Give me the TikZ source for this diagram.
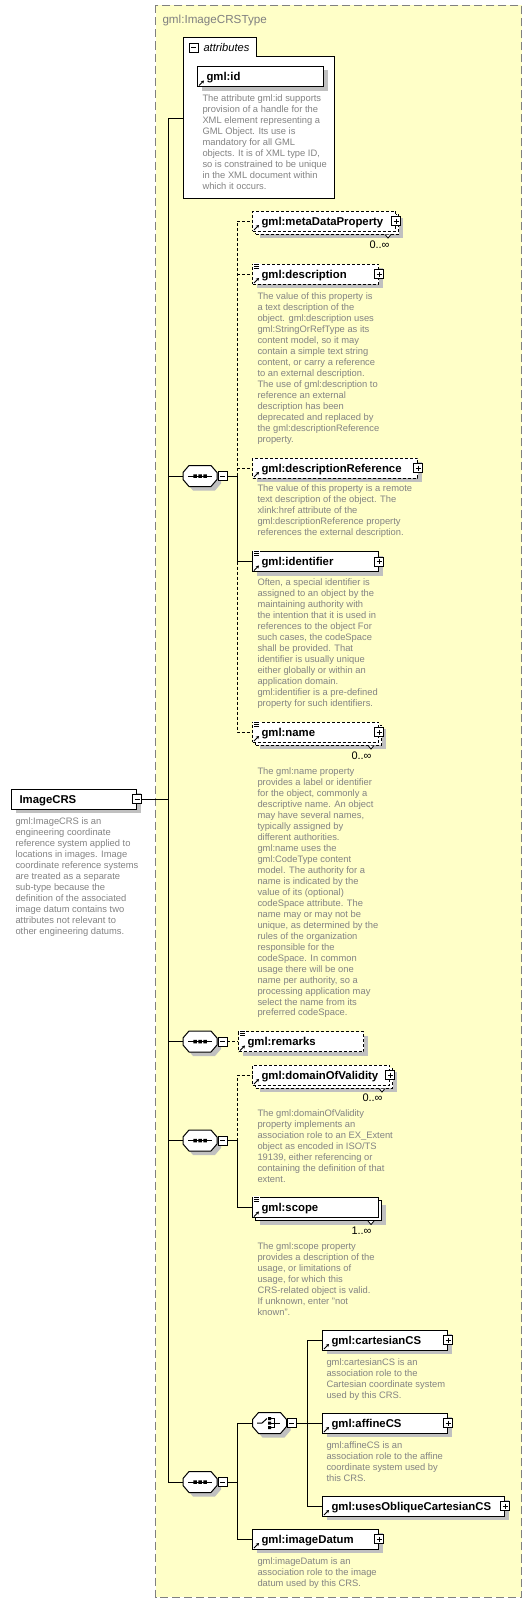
\documentclass[tikz,border=0pt]{standalone}
\usepackage{fontspec}
\setmainfont{Liberation Sans}
\usetikzlibrary{shadows,arrows.meta}
\definecolor{bgyellow}{HTML}{FFFFC8}
\definecolor{desccol}{HTML}{838383}
\definecolor{shadowgray}{HTML}{C0C0C0}
\definecolor{framegray}{HTML}{808080}
\tikzset{
  box/.style={draw, fill=white, line width=1bp, minimum height=20bp, inner sep=0pt, anchor=west},
  shad/.style={general shadow={fill=shadowgray, shadow xshift=4bp, shadow yshift=-4bp}},
  multishad/.style={general shadow={fill=shadowgray, shadow xshift=7bp, shadow yshift=-7bp},
                    general shadow={fill=white, draw=black, line width=1bp, shadow xshift=3bp, shadow yshift=-3bp, #1}},
  multishad/.default=solid,
  opt/.style={dash pattern=on 3bp off 2bp},
  lbl/.style={anchor=base west, inner sep=0pt, font=\fontsize{11.4}{13}\selectfont\bfseries},
  doc/.style={anchor=north west, inner sep=0pt, align=left, text=desccol, font=\fontsize{9.4}{11}\selectfont},
  mult/.style={anchor=east, inner sep=0pt, font=\fontsize{11}{12}\selectfont},
  mbox/.style={draw, fill=white, line width=0.8bp, minimum size=9bp, inner sep=0pt,
     path picture={\draw[line width=0.8bp] ([xshift=2bp]path picture bounding box.west) -- ([xshift=-2bp]path picture bounding box.east);}},
  pbox/.style={draw, fill=white, line width=0.8bp, minimum size=9bp, inner sep=0pt,
     path picture={\draw[line width=0.8bp] ([xshift=2bp]path picture bounding box.west) -- ([xshift=-2bp]path picture bounding box.east)
        ([yshift=-2bp]path picture bounding box.north) -- ([yshift=2bp]path picture bounding box.south);}},
  comp/.style={minimum width=34bp, minimum height=21bp, inner sep=0pt},
  refarrow/.pic={\draw[line width=1bp, -{Stealth[length=3bp,width=3.5bp]}] (2,-1.5) -- (7,-6.5);},
  docicon/.pic={\fill[white] (1,-1) rectangle (8,6); \draw[line width=0.7bp] (2,0.5) -- (7,0.5) (2,2.5) -- (7,2.5) (2,4.5) -- (7,4.5);},
  notch/.pic={\draw[fill=white, line width=0.8bp] (-3,0) -- (0,3.5) -- (3,0);},
  octo/.pic={
    \fill[shadowgray, shift={(4,4)}] (-17,-3.5) -- (-11,-10.5) -- (11,-10.5) -- (17,-3.5) -- (17,3.5) -- (11,10.5) -- (-11,10.5) -- (-17,3.5) -- cycle;
    \draw[fill=white, line width=1bp] (-17,-3.5) -- (-11,-10.5) -- (11,-10.5) -- (17,-3.5) -- (17,3.5) -- (11,10.5) -- (-11,10.5) -- (-17,3.5) -- cycle;},
  seqsym/.pic={\draw[line width=1bp] (-12,0) -- (12,0);
    \fill (-6.75,-1.75) rectangle (-3.25,1.75) (-1.75,-1.75) rectangle (1.75,1.75) (3.25,-1.75) rectangle (6.75,1.75);},
  choicesym/.pic={\draw[line width=1bp] (-12.5,0) -- (-7.5,0) -- (-2.5,-4.5);
    \fill (-1.5,-6) rectangle (1.5,-3) (-1.5,-1.5) rectangle (1.5,1.5) (-1.5,3) rectangle (1.5,6);
    \draw[line width=1bp] (1.5,-4.5) -- (4.5,-4.5) -- (4.5,4.5) -- (1.5,4.5) (1.5,0) -- (10,0);}
}
\begin{document}
\begin{tikzpicture}[x=1bp,y=-1bp,line width=1bp]
\useasboundingbox (0,0) rectangle (532,1606);
\fill[white] (0,0) rectangle (532,1606);
% complex type frame
\draw[framegray, fill=bgyellow, dash pattern=on 8bp off 4bp] (155.5,5.5) rectangle (521.5,1597);
\node[anchor=west, inner sep=0pt, text=framegray, font=\fontsize{11.7}{13}\selectfont] (title) at (162,20) {gml:ImageCRSType};

% attributes box
\draw[fill=white] (183,198) -- (183,38) -- (256,38) -- (256,57) -- (334,57) -- (334,198) -- cycle;
\node[mbox] (attrm) at (193.5,47.5) {};
\node[anchor=base west, inner sep=0pt, font=\fontsize{11.2}{12}\selectfont\itshape] (attrl) at (203,52) {attributes};
\coordinate (attrin) at (183,118);
\node[box, shad, minimum width=126bp] (gmlid) at (197,76.5) {};
\node[lbl] (gmlidl) at ([xshift=9bp,yshift=-4bp]gmlid.west) {gml:id};
\pic at (gmlid.south west) {refarrow};
\node[doc] (gmlidt) at (202,94.6) {The attribute gml:id supports\\provision of a handle for the\\XML element representing a\\GML Object. Its use is\\mandatory for all GML\\objects. It is of XML type ID,\\so is constrained to be unique\\in the XML document within\\which it occurs.};

% root element
\node[box, shad, minimum width=125bp] (crs) at (11,799) {};
\node[lbl] (crsl) at ([xshift=8bp,yshift=-4bp]crs.west) {ImageCRS};
\node[mbox] (crsm) at (crs.east) {};
\node[doc] (crst) at (15,817.6) {gml:ImageCRS is an\\engineering coordinate\\reference system applied to\\locations in images. Image\\coordinate reference systems\\are treated as a separate\\sub-type because the\\definition of the associated\\image datum contains two\\attributes not relevant to\\other engineering datums.};
\coordinate (j0) at (168,799);

% compositors
\node[comp] (s1) at (200,476) {}; \pic at (s1.center) {octo}; \pic at (s1.center) {seqsym};
\node[mbox] (s1m) at (222.5,476) {};
\node[comp] (s2) at (200,1041.5) {}; \pic at (s2.center) {octo}; \pic at (s2.center) {seqsym};
\node[mbox] (s2m) at (222.5,1041.5) {};
\node[comp] (s3) at (200,1140.5) {}; \pic at (s3.center) {octo}; \pic at (s3.center) {seqsym};
\node[mbox] (s3m) at (222.5,1140.5) {};
\node[comp] (s4) at (200,1482) {}; \pic at (s4.center) {octo}; \pic at (s4.center) {seqsym};
\node[mbox] (s4m) at (222.5,1482) {};
\node[comp, minimum width=35bp] (ch) at (269.5,1423) {}; \pic at (ch.center) {octo}; \pic at (ch.center) {choicesym};
\node[mbox] (chm) at (291.5,1423) {};
\coordinate (j1) at (237,476);
\coordinate (j3) at (237,1140.5);
\coordinate (j4) at (237,1482);
\coordinate (j5) at (307,1423);

% sequence 1
\node[box, opt, multishad=opt, minimum width=143bp] (meta) at (252,221) {};
\pic at ([xshift=-8bp,yshift=-3bp]meta.south east) {notch};
\node[lbl] (metal) at ([xshift=9bp,yshift=-4bp]meta.west) {gml:metaDataProperty};
\pic at (meta.south west) {refarrow};
\node[pbox] (metap) at (meta.east) {};
\node[mult] (metam) at (390,245) {0..∞};

\node[box, opt, shad, minimum width=126bp] (desc) at (252,274) {};
\node[lbl] (descl) at ([xshift=9bp,yshift=-4bp]desc.west) {gml:description};
\pic at (desc.north west) {docicon};
\pic at (desc.south west) {refarrow};
\node[pbox] (descp) at (desc.east) {};
\node[doc] (desct) at (257,292.6) {The value of this property is\\a text description of the\\object. gml:description uses\\gml:StringOrRefType as its\\content model, so it may\\contain a simple text string\\content, or carry a reference\\to an external description.\\The use of gml:description to\\reference an external\\description has been\\deprecated and replaced by\\the gml:descriptionReference\\property.};

\node[box, opt, shad, minimum width=165bp] (descref) at (252,468) {};
\node[lbl] (descrefl) at ([xshift=9bp,yshift=-4bp]descref.west) {gml:descriptionReference};
\pic at (descref.south west) {refarrow};
\node[pbox] (descrefp) at (descref.east) {};
\node[doc] (descreft) at (257,484.6) {The value of this property is a remote\\text description of the object. The\\xlink:href attribute of the\\gml:descriptionReference property\\references the external description.};

\node[box, shad, minimum width=126bp] (ident) at (252,561.5) {};
\node[lbl] (identl) at ([xshift=9bp,yshift=-4bp]ident.west) {gml:identifier};
\pic at (ident.north west) {docicon};
\pic at (ident.south west) {refarrow};
\node[pbox] (identp) at (ident.east) {};
\node[doc] (identt) at (257,578.6) {Often, a special identifier is\\assigned to an object by the\\maintaining authority with\\the intention that it is used in\\references to the object For\\such cases, the codeSpace\\shall be provided. That\\identifier is usually unique\\either globally or within an\\application domain.\\gml:identifier is a pre-defined\\property for such identifiers.};

\node[box, opt, multishad=opt, minimum width=126bp] (name) at (252,732) {};
\pic at ([xshift=-8bp,yshift=-3bp]name.south east) {notch};
\node[lbl] (namel) at ([xshift=9bp,yshift=-4bp]name.west) {gml:name};
\pic at (name.north west) {docicon};
\pic at (name.south west) {refarrow};
\node[pbox] (namep) at (name.east) {};
\node[mult] (namem) at (372,756) {0..∞};
\node[doc] (namet) at (257,767.6) {The gml:name property\\provides a label or identifier\\for the object, commonly a\\descriptive name. An object\\may have several names,\\typically assigned by\\different authorities.\\gml:name uses the\\gml:CodeType content\\model.  The authority for a\\name is indicated by the\\value of its (optional)\\codeSpace attribute.  The\\name may or may not be\\unique, as determined by the\\rules of the organization\\responsible for the\\codeSpace.  In common\\usage there will be one\\name per authority, so a\\processing application may\\select the name from its\\preferred codeSpace.};

% sequence 2
\node[box, opt, shad, minimum width=125bp] (remarks) at (238,1041.5) {};
\node[lbl] (remarksl) at ([xshift=9bp,yshift=-4bp]remarks.west) {gml:remarks};
\pic at (remarks.north west) {docicon};
\pic at (remarks.south west) {refarrow};

% sequence 3
\node[box, opt, multishad=opt, minimum width=137bp] (dov) at (252,1075) {};
\pic at ([xshift=-8bp,yshift=-3bp]dov.south east) {notch};
\node[lbl] (dovl) at ([xshift=9bp,yshift=-4bp]dov.west) {gml:domainOfValidity};
\pic at (dov.south west) {refarrow};
\node[pbox] (dovp) at (dov.east) {};
\node[mult] (dovm) at (383,1098) {0..∞};
\node[doc] (dovt) at (257,1109.6) {The gml:domainOfValidity\\property implements an\\association role to an EX\_Extent\\object as encoded in ISO/TS\\19139, either referencing or\\containing the definition of that\\extent.};

\node[box, multishad, minimum width=126bp] (scope) at (252,1207.5) {};
\pic at ([xshift=-8bp,yshift=-3bp]scope.south east) {notch};
\node[lbl] (scopel) at ([xshift=9bp,yshift=-4bp]scope.west) {gml:scope};
\pic at (scope.north west) {docicon};
\pic at (scope.south west) {refarrow};
\node[mult] (scopem) at (372,1231) {1..∞};
\node[doc] (scopet) at (257,1242.6) {The gml:scope property\\provides a description of the\\usage, or limitations of\\usage, for which this\\CRS-related object is valid.\\If unknown, enter "not\\known".};

% sequence 4
\node[box, shad, minimum width=125bp] (cart) at (322,1340) {};
\node[lbl] (cartl) at ([xshift=9bp,yshift=-4bp]cart.west) {gml:cartesianCS};
\pic at (cart.south west) {refarrow};
\node[pbox] (cartp) at (cart.east) {};
\node[doc] (cartt) at (326,1358.6) {gml:cartesianCS is an\\association role to the\\Cartesian coordinate system\\used by this CRS.};

\node[box, shad, minimum width=125bp] (affine) at (322,1423) {};
\node[lbl] (affinel) at ([xshift=9bp,yshift=-4bp]affine.west) {gml:affineCS};
\pic at (affine.south west) {refarrow};
\node[pbox] (affinep) at (affine.east) {};
\node[doc] (affinet) at (326,1441.6) {gml:affineCS is an\\association role to the affine\\coordinate system used by\\this CRS.};

\node[box, shad, minimum width=182bp] (obl) at (322,1506) {};
\node[lbl] (obll) at ([xshift=9bp,yshift=-4bp]obl.west) {gml:usesObliqueCartesianCS};
\pic at (obl.south west) {refarrow};
\node[pbox] (oblp) at (obl.east) {};

\node[box, shad, minimum width=126bp] (datum) at (252,1539) {};
\node[lbl] (datuml) at ([xshift=9bp,yshift=-4bp]datum.west) {gml:imageDatum};
\pic at (datum.south west) {refarrow};
\node[pbox] (datump) at (datum.east) {};
\node[doc] (datumt) at (257,1557.6) {gml:imageDatum is an\\association role to the image\\datum used by this CRS.};

% connectors
\draw (crsm.east) -- (j0);
\draw (j0) |- (attrin);
\draw (j0) |- (s1.west);
\draw (j0) |- (s2.west);
\draw (j0) |- (s3.west);
\draw (j0) |- (s4.west);

\draw (s1m.east) -- (j1);
\draw[opt] (j1) |- (meta.west);
\draw[opt] (j1 |- desc.west) -- (desc.west);
\draw[opt] (j1 |- descref.west) -- (descref.west);
\draw (j1) |- (ident.west);
\draw[opt] (j1 |- ident.west) |- (name.west);

\draw[opt] (s2m.east) -- (remarks.west);

\draw (s3m.east) -- (j3);
\draw[opt] (j3) |- (dov.west);
\draw (j3) |- (scope.west);

\draw (s4m.east) -- (j4);
\draw (j4) |- (ch.west);
\draw (j4) |- (datum.west);

\draw (chm.east) -- (j5);
\draw (j5) |- (cart.west);
\draw (j5) -- (affine.west);
\draw (j5) |- (obl.west);
\end{tikzpicture}
\end{document}
